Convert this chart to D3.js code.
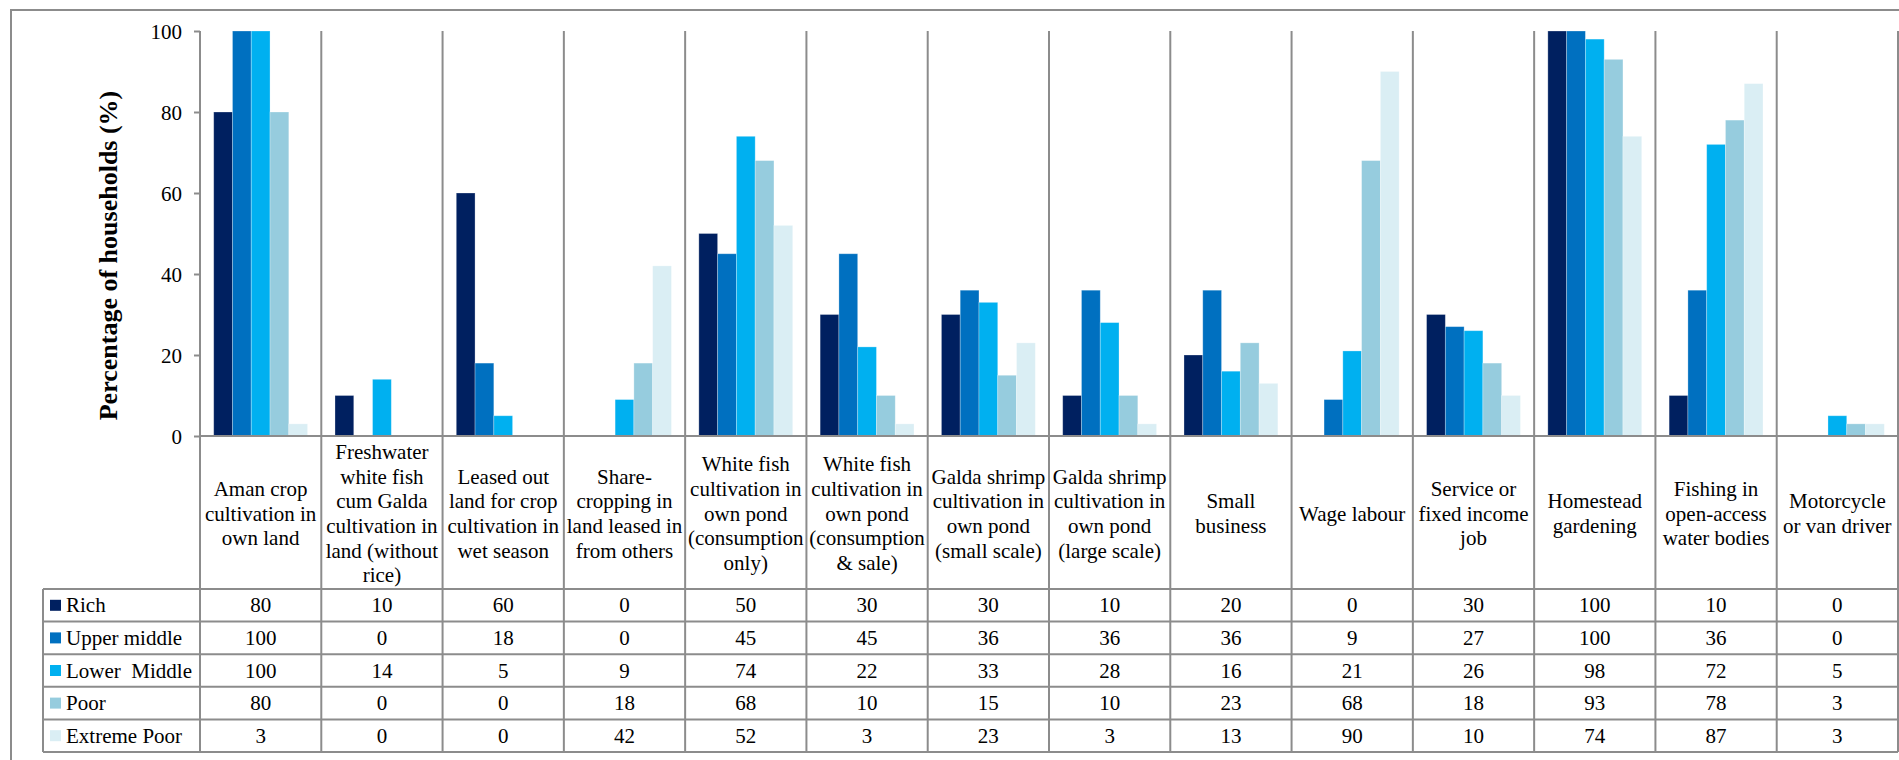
<!DOCTYPE html>
<html>
<head>
<meta charset="utf-8">
<script src="https://cdn.jsdelivr.net/npm/d3@7"></script>
<style>
  html, body { margin: 0; padding: 0; background: #fff; }
  svg { display: block; }
  svg text { font-family: "Liberation Serif", "Times New Roman", serif; fill: #000; }
</style>
</head>
<body>
<svg id="chart" width="1899" height="760"></svg>
<script>
// ---------- data ----------
const categories = [
  ["Aman crop", "cultivation in", "own land"],
  ["Freshwater", "white fish", "cum Galda", "cultivation in", "land (without", "rice)"],
  ["Leased out", "land for crop", "cultivation in", "wet season"],
  ["Share-", "cropping in", "land leased in", "from others"],
  ["White fish", "cultivation in", "own pond", "(consumption", "only)"],
  ["White fish", "cultivation in", "own pond", "(consumption", "& sale)"],
  ["Galda shrimp", "cultivation in", "own pond", "(small scale)"],
  ["Galda shrimp", "cultivation in", "own pond", "(large scale)"],
  ["Small", "business"],
  ["Wage labour"],
  ["Service or", "fixed income", "job"],
  ["Homestead", "gardening"],
  ["Fishing in", "open-access", "water bodies"],
  ["Motorcycle", "or van driver"]
];
const seriesNames = ["Rich", "Upper middle", "Lower  Middle", "Poor", "Extreme Poor"];
const seriesColors = ["#002060", "#0070C0", "#00B0F0", "#96CCDE", "#DAEEF4"];
const rich         = [80, 10, 60, 0, 50, 30, 30, 10, 20, 0, 30, 100, 10, 0];
const upperMiddle  = [100, 0, 18, 0, 45, 45, 36, 36, 36, 9, 27, 100, 36, 0];
const lowerMiddle  = [100, 14, 5, 9, 74, 22, 33, 28, 16, 21, 26, 98, 72, 5];
const poor         = [80, 0, 0, 18, 68, 10, 15, 10, 23, 68, 18, 93, 78, 3];
const extremePoor  = [3, 0, 0, 42, 52, 3, 23, 3, 13, 90, 10, 74, 87, 3];
const seriesValues = [rich, upperMiddle, lowerMiddle, poor, extremePoor];
const yTicks = [0, 20, 40, 60, 80, 100];
const yTitle = "Percentage of households (%)";

// ---------- layout ----------
const FONT = "Liberation Serif, Times New Roman, serif";
const svg = d3.select("#chart");
const plotLeft = 200, plotRight = 1898, plotTop = 31, plotBottom = 436;
const tableLeft = 43, labelBottom = 589, rowH = 32.6;
const tableBottom = labelBottom + rowH * seriesNames.length;
const gridColor = "#8c8c8c";

// outer border
svg.append("rect").attr("x", 11).attr("y", 10).attr("width", 1899).attr("height", 800)
  .attr("fill", "none").attr("stroke", gridColor).attr("stroke-width", 2);

const catIdx = categories.map((d, i) => i);
const x0 = d3.scaleBand().domain(catIdx).range([plotLeft, plotRight]).paddingInner(0).paddingOuter(0);
const x1 = d3.scaleBand().domain(d3.range(seriesNames.length)).range([0, x0.bandwidth()])
  .paddingInner(0).paddingOuter(0.73);
const y = d3.scaleLinear().domain([0, 100]).range([plotBottom, plotTop]);

// bars
const gBars = svg.append("g");
seriesValues.forEach((vals, s) => {
  const pts = vals.map((v, i) => ({v, i})).filter(d => d.v > 0);
  gBars.selectAll(null).data(pts).enter().append("rect")
    .attr("x", d => x0(d.i) + x1(s))
    .attr("y", d => y(d.v))
    .attr("width", x1.bandwidth())
    .attr("height", d => y(0) - y(d.v))
    .attr("fill", seriesColors[s])
    .attr("stroke", "#ffffff").attr("stroke-opacity", 0.35).attr("stroke-width", 0.8);
});

// y axis
const yAxis = d3.axisLeft(y).tickValues(yTicks).tickSize(6).tickSizeOuter(0).tickPadding(12);
const gy = svg.append("g").attr("transform", `translate(${plotLeft},0)`).call(yAxis)
  .attr("font-family", FONT).attr("font-size", 21);
gy.select(".domain").remove();
gy.selectAll(".tick line").attr("stroke", gridColor).attr("stroke-width", 2);
gy.selectAll(".tick text").attr("font-size", 21).attr("font-family", FONT)
  .attr("fill", "#000").attr("dy", "0.34em");

// y title
svg.append("text")
  .attr("transform", `translate(108,${(plotTop + plotBottom) / 2 + 22}) rotate(-90)`)
  .attr("text-anchor", "middle").attr("dominant-baseline", "central")
  .attr("font-family", FONT).attr("font-size", 26).attr("font-weight", "bold").text(yTitle);

// grid: vertical dividers
const gGrid = svg.append("g").attr("stroke", gridColor).attr("stroke-width", 2);
catIdx.concat([categories.length]).forEach(i => {
  const xx = i < categories.length ? x0(i) : plotRight;
  gGrid.append("line").attr("x1", xx).attr("x2", xx).attr("y1", plotTop).attr("y2", tableBottom);
});
// x axis line
gGrid.append("line").attr("x1", plotLeft).attr("x2", plotRight).attr("y1", plotBottom).attr("y2", plotBottom);
// table horizontal lines
for (let r = 0; r <= seriesNames.length; r++) {
  const yy = labelBottom + r * rowH;
  gGrid.append("line").attr("x1", tableLeft).attr("x2", plotRight).attr("y1", yy).attr("y2", yy);
}
gGrid.append("line").attr("x1", tableLeft).attr("x2", tableLeft).attr("y1", labelBottom).attr("y2", tableBottom);

// category labels
const labelCenter = (plotBottom + labelBottom) / 2 + 1;
const lineH = 24.6;
categories.forEach((lines, i) => {
  const t = svg.append("text").attr("text-anchor", "middle")
    .attr("font-family", FONT).attr("font-size", 21);
  const cx = x0(i) + x0.bandwidth() / 2;
  lines.forEach((ln, k) => {
    t.append("tspan").attr("x", cx)
      .attr("y", labelCenter + (k - (lines.length - 1) / 2) * lineH)
      .attr("dy", "0.34em").text(ln);
  });
});

// table rows
seriesNames.forEach((name, s) => {
  const cy = labelBottom + (s + 0.5) * rowH;
  svg.append("rect").attr("x", 50).attr("y", cy - 5.5).attr("width", 11).attr("height", 11)
    .attr("fill", seriesColors[s]);
  svg.append("text").attr("x", 66).attr("y", cy).attr("dy", "0.34em")
    .attr("font-family", FONT).attr("font-size", 21)
    .attr("xml:space", "preserve").text(name);
  seriesValues[s].forEach((v, i) => {
    svg.append("text").attr("x", x0(i) + x0.bandwidth() / 2).attr("y", cy).attr("dy", "0.34em")
      .attr("text-anchor", "middle").attr("font-family", FONT).attr("font-size", 21).text(v);
  });
});
</script>
</body>
</html>
